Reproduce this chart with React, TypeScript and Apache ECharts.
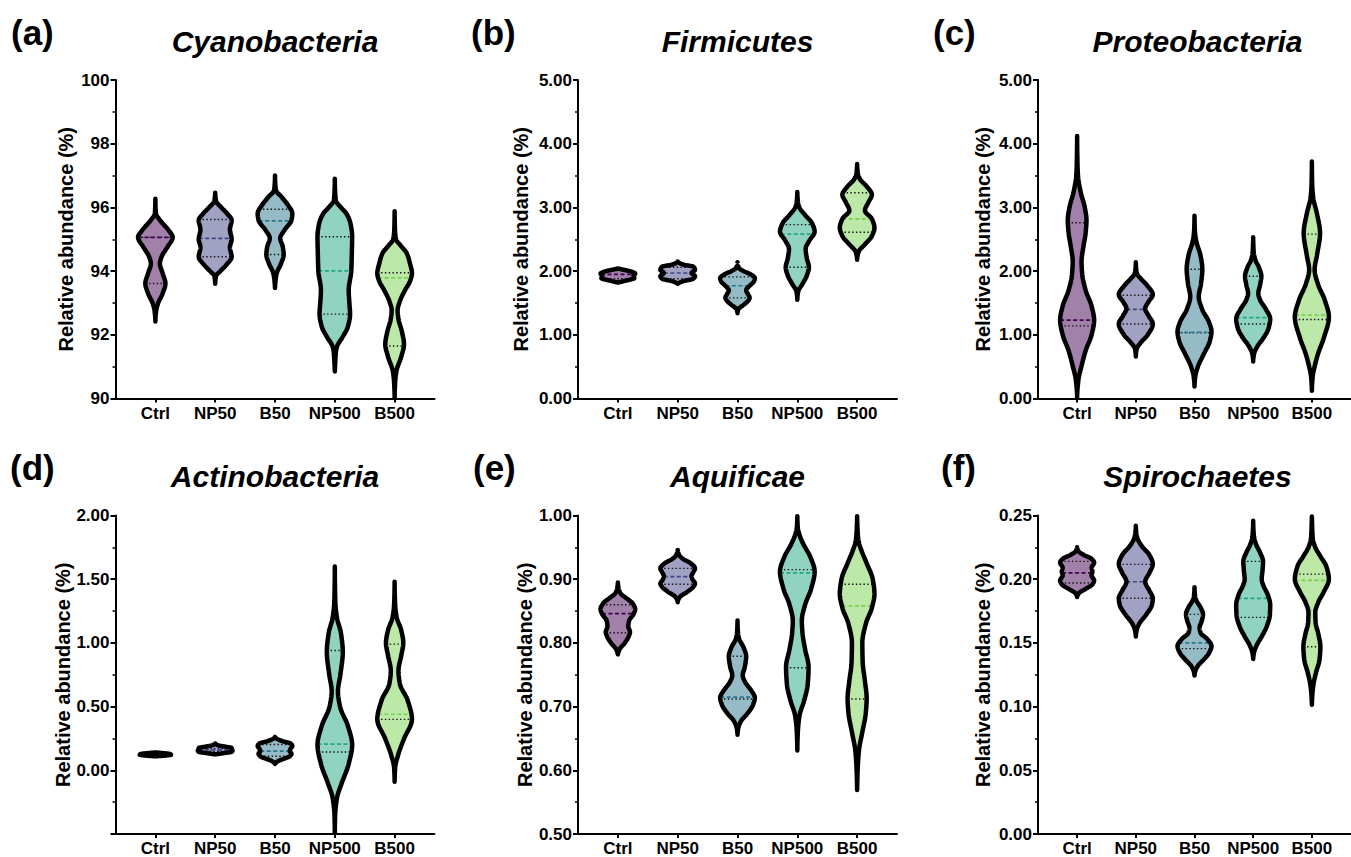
import React, { useEffect, useRef } from 'react';
import * as echarts from 'echarts';

type Pt = [number, number];

// ---------------- data ----------------
const CATEGORIES = ['Ctrl', 'NP50', 'B50', 'NP500', 'B500'];
const PANEL_LETTERS = ['(a)', '(b)', '(c)', '(d)', '(e)', '(f)'];
const PANEL_TITLES = ['Cyanobacteria', 'Firmicutes', 'Proteobacteria', 'Actinobacteria', 'Aquificae', 'Spirochaetes'];
const Y_MIN = [90, 0, 0, -0.5, 0.5, 0];
const Y_MAX = [100, 5, 5, 2, 1, 0.25];
const Y_STEP = [2, 1, 1, 0.5, 0.1, 0.05];
const Y_DECIMALS = [0, 2, 2, 2, 2, 2];
const Y_HIDE_MIN_LABEL = [false, false, false, true, false, false];
const Y_NAME = 'Relative abundance (%)';

// violin profiles: [value, relative density half-width]
const cyanoProfiles: Pt[][] = [
  [[92.42, 0], [92.77, 0.05], [92.98, 0.15], [93.3, 0.42], [93.61, 0.58], [93.93, 0.42], [94.24, 0.26], [94.45, 0.36], [94.76, 0.7], [95.06, 1.0], [95.29, 0.75], [95.6, 0.26], [95.81, 0.03], [96.27, 0]],
  [[93.6, 0], [93.85, 0.05], [94.0, 0.3], [94.2, 0.65], [94.45, 0.95], [94.75, 0.85], [95.0, 0.95], [95.3, 0.85], [95.6, 0.95], [95.8, 0.7], [96.0, 0.35], [96.2, 0.05], [96.46, 0]],
  [[93.47, 0], [93.7, 0.03], [93.93, 0.1], [94.24, 0.35], [94.52, 0.5], [94.76, 0.45], [95.03, 0.3], [95.29, 0.55], [95.6, 0.95], [95.81, 1.0], [96.07, 0.75], [96.34, 0.36], [96.54, 0.05], [97.0, 0]],
  [[90.85, 0], [91.2, 0.03], [91.45, 0.06], [91.62, 0.12], [91.94, 0.46], [92.25, 0.75], [92.65, 0.88], [93.0, 0.84], [93.4, 0.8], [94.01, 0.95], [94.55, 0.98], [95.08, 1.0], [95.5, 0.9], [95.82, 0.65], [96.0, 0.35], [96.23, 0.05], [96.9, 0]],
  [[90.03, 0], [90.5, 0.03], [90.85, 0.1], [91.31, 0.38], [91.7, 0.54], [92.1, 0.42], [92.5, 0.22], [92.77, 0.17], [93.05, 0.3], [93.4, 0.6], [93.7, 0.9], [93.93, 1.0], [94.25, 0.88], [94.56, 0.7], [94.8, 0.35], [95.0, 0.08], [95.3, 0.02], [95.88, 0]],
];
const cyanoMedian = [95.06, 95.03, 95.58, 94.01, 93.79];
const cyanoQ1 = [93.61, 94.45, 94.52, 92.65, 91.65];
const cyanoQ3 = [95.06, 95.62, 95.94, 95.08, 93.95];

const firmiProfiles: Pt[][] = [
  [[1.82, 0], [1.85, 0.45], [1.89, 0.95], [1.93, 0.9], [1.96, 1.0], [1.99, 0.8], [2.02, 0.35], [2.04, 0]],
  [[1.8, 0], [1.84, 0.3], [1.88, 0.9], [1.92, 1.0], [1.97, 0.8], [2.02, 1.0], [2.07, 0.9], [2.1, 0.35], [2.15, 0]],
  [[1.34, 0], [1.4, 0.05], [1.47, 0.35], [1.53, 0.6], [1.58, 0.7], [1.64, 0.6], [1.7, 0.5], [1.77, 0.7], [1.84, 0.95], [1.89, 1.0], [1.95, 0.75], [2.0, 0.35], [2.05, 0.08], [2.14, 0]],
  [[1.55, 0], [1.68, 0.05], [1.8, 0.3], [1.93, 0.55], [2.06, 0.67], [2.2, 0.55], [2.35, 0.48], [2.48, 0.7], [2.62, 1.0], [2.75, 0.85], [2.88, 0.45], [3.0, 0.12], [3.1, 0.03], [3.24, 0]],
  [[2.18, 0], [2.3, 0.08], [2.42, 0.45], [2.55, 0.85], [2.68, 1.0], [2.82, 0.85], [2.95, 0.45], [3.08, 0.65], [3.2, 0.85], [3.33, 0.55], [3.45, 0.15], [3.55, 0.03], [3.68, 0]],
];
const firmiMedian = [1.95, 1.97, 1.77, 2.58, 2.82];
const firmiQ1 = [1.88, 1.88, 1.58, 2.06, 2.61];
const firmiQ3 = [2.01, 2.06, 1.91, 2.73, 3.23];

const proteoProfiles: Pt[][] = [
  [[0.02, 0], [0.3, 0.08], [0.5, 0.25], [0.75, 0.5], [1.0, 0.85], [1.23, 1.0], [1.45, 0.85], [1.7, 0.5], [1.95, 0.3], [2.15, 0.26], [2.4, 0.38], [2.6, 0.5], [2.8, 0.55], [3.0, 0.45], [3.25, 0.2], [3.5, 0.05], [3.7, 0.02], [4.12, 0]],
  [[0.66, 0], [0.78, 0.05], [0.88, 0.3], [1.0, 0.7], [1.17, 1.0], [1.3, 0.75], [1.41, 0.55], [1.52, 0.75], [1.63, 1.0], [1.78, 0.65], [1.88, 0.3], [1.97, 0.05], [2.14, 0]],
  [[0.19, 0], [0.35, 0.05], [0.5, 0.2], [0.7, 0.55], [0.9, 0.9], [1.05, 1.0], [1.2, 0.85], [1.4, 0.45], [1.6, 0.25], [1.8, 0.38], [2.03, 0.46], [2.25, 0.35], [2.45, 0.12], [2.6, 0.03], [2.87, 0]],
  [[0.58, 0], [0.7, 0.05], [0.82, 0.25], [0.95, 0.6], [1.1, 0.9], [1.25, 1.0], [1.4, 0.75], [1.55, 0.4], [1.65, 0.3], [1.78, 0.4], [1.92, 0.48], [2.05, 0.35], [2.18, 0.12], [2.3, 0.03], [2.53, 0]],
  [[0.12, 0], [0.35, 0.05], [0.5, 0.16], [0.7, 0.36], [0.95, 0.7], [1.28, 1.0], [1.55, 0.75], [1.8, 0.35], [2.02, 0.16], [2.25, 0.3], [2.6, 0.48], [2.9, 0.3], [3.15, 0.08], [3.35, 0.02], [3.72, 0]],
];
const proteoMedian = [1.23, 1.4, 1.04, 1.27, 1.31];
const proteoQ1 = [1.14, 1.17, 1.03, 1.17, 1.24];
const proteoQ3 = [2.76, 1.62, 2.03, 1.92, 2.58];

const actinoProfiles: Pt[][] = [
  [[0.11, 0], [0.116, 0.6], [0.122, 0.9], [0.128, 0.85], [0.134, 0.5], [0.14, 0]],
  [[0.125, 0], [0.135, 0.5], [0.145, 0.95], [0.155, 1.0], [0.165, 0.95], [0.175, 0.95], [0.185, 0.6], [0.195, 0.2], [0.21, 0]],
  [[0.05, 0], [0.07, 0.15], [0.09, 0.5], [0.11, 0.85], [0.13, 0.95], [0.15, 0.85], [0.17, 0.9], [0.19, 1.0], [0.21, 0.9], [0.23, 0.4], [0.25, 0.08], [0.262, 0]],
  [[-0.49, 0], [-0.35, 0.02], [-0.22, 0.12], [-0.1, 0.4], [0.05, 0.8], [0.2, 1.0], [0.35, 0.75], [0.5, 0.3], [0.62, 0.18], [0.75, 0.32], [0.93, 0.46], [1.08, 0.35], [1.2, 0.12], [1.32, 0.03], [1.6, 0]],
  [[-0.09, 0], [0.02, 0.03], [0.12, 0.2], [0.25, 0.55], [0.4, 1.0], [0.55, 0.75], [0.68, 0.3], [0.78, 0.22], [0.9, 0.38], [1.0, 0.5], [1.1, 0.38], [1.2, 0.12], [1.3, 0.03], [1.48, 0]],
];
const actinoMedian = [0.124, 0.16, 0.15, 0.205, 0.44];
const actinoQ1 = [0.12, 0.15, 0.11, 0.144, 0.4];
const actinoQ3 = [0.128, 0.17, 0.202, 0.94, 0.99];

const aquiProfiles: Pt[][] = [
  [[0.782, 0], [0.79, 0.1], [0.8, 0.4], [0.81, 0.62], [0.817, 0.7], [0.826, 0.6], [0.835, 0.65], [0.845, 0.9], [0.853, 1.0], [0.862, 0.85], [0.87, 0.5], [0.878, 0.15], [0.886, 0.04], [0.895, 0]],
  [[0.864, 0], [0.872, 0.12], [0.88, 0.55], [0.888, 0.9], [0.893, 1.0], [0.9, 0.85], [0.905, 0.8], [0.911, 0.9], [0.917, 1.0], [0.925, 0.75], [0.932, 0.3], [0.938, 0.08], [0.946, 0]],
  [[0.656, 0], [0.667, 0.05], [0.677, 0.2], [0.69, 0.6], [0.703, 0.9], [0.714, 1.0], [0.725, 0.8], [0.738, 0.45], [0.749, 0.3], [0.762, 0.42], [0.779, 0.5], [0.793, 0.35], [0.806, 0.1], [0.815, 0.03], [0.835, 0]],
  [[0.631, 0], [0.66, 0.03], [0.685, 0.12], [0.71, 0.4], [0.735, 0.6], [0.762, 0.65], [0.79, 0.45], [0.815, 0.3], [0.835, 0.26], [0.86, 0.45], [0.885, 0.8], [0.912, 1.0], [0.935, 0.75], [0.955, 0.35], [0.97, 0.12], [0.98, 0.03], [0.999, 0]],
  [[0.569, 0], [0.6, 0.03], [0.63, 0.1], [0.66, 0.3], [0.69, 0.5], [0.713, 0.55], [0.74, 0.45], [0.77, 0.32], [0.8, 0.3], [0.83, 0.5], [0.855, 0.85], [0.877, 1.0], [0.9, 0.9], [0.925, 0.55], [0.945, 0.25], [0.96, 0.08], [0.975, 0.03], [0.999, 0]],
];
const aquiMedian = [0.846, 0.904, 0.715, 0.91, 0.858];
const aquiQ1 = [0.816, 0.892, 0.712, 0.761, 0.712];
const aquiQ3 = [0.86, 0.917, 0.779, 0.915, 0.892];

const spiroProfiles: Pt[][] = [
  [[0.186, 0], [0.189, 0.1], [0.192, 0.45], [0.196, 0.9], [0.199, 1.0], [0.203, 0.85], [0.206, 0.9], [0.209, 0.85], [0.213, 1.0], [0.216, 0.85], [0.219, 0.4], [0.222, 0.08], [0.225, 0]],
  [[0.155, 0], [0.16, 0.05], [0.165, 0.2], [0.172, 0.6], [0.18, 0.95], [0.185, 1.0], [0.191, 0.8], [0.198, 0.55], [0.205, 0.8], [0.212, 1.0], [0.219, 0.8], [0.226, 0.35], [0.232, 0.1], [0.236, 0.03], [0.242, 0]],
  [[0.1244, 0], [0.128, 0.05], [0.132, 0.2], [0.137, 0.55], [0.142, 0.85], [0.1475, 1.0], [0.153, 0.75], [0.158, 0.35], [0.162, 0.3], [0.167, 0.42], [0.1725, 0.5], [0.178, 0.35], [0.183, 0.12], [0.187, 0.03], [0.1936, 0]],
  [[0.1374, 0], [0.142, 0.04], [0.148, 0.2], [0.155, 0.5], [0.163, 0.8], [0.172, 0.98], [0.18, 1.0], [0.188, 0.85], [0.195, 0.6], [0.2, 0.5], [0.207, 0.55], [0.214, 0.58], [0.221, 0.4], [0.228, 0.15], [0.234, 0.04], [0.2458, 0]],
  [[0.1014, 0], [0.11, 0.03], [0.118, 0.1], [0.127, 0.25], [0.137, 0.45], [0.147, 0.5], [0.157, 0.38], [0.166, 0.22], [0.174, 0.2], [0.182, 0.38], [0.19, 0.7], [0.2, 1.0], [0.21, 0.85], [0.218, 0.5], [0.225, 0.2], [0.232, 0.05], [0.24, 0.02], [0.2492, 0]],
];
const spiroMedian = [0.205, 0.198, 0.15, 0.185, 0.199];
const spiroQ1 = [0.197, 0.185, 0.1455, 0.17, 0.147];
const spiroQ3 = [0.214, 0.2116, 0.1724, 0.214, 0.204];

const ALL_PROFILES = [cyanoProfiles, firmiProfiles, proteoProfiles, actinoProfiles, aquiProfiles, spiroProfiles];
const ALL_MEDIANS = [cyanoMedian, firmiMedian, proteoMedian, actinoMedian, aquiMedian, spiroMedian];
const ALL_Q1 = [cyanoQ1, firmiQ1, proteoQ1, actinoQ1, aquiQ1, spiroQ1];
const ALL_Q3 = [cyanoQ3, firmiQ3, proteoQ3, actinoQ3, aquiQ3, spiroQ3];

// ---------------- styles / layout ----------------
const COLORS = ['#440154', '#414487', '#2A788E', '#22A884', '#7AD151'];
const FONT = '"Liberation Sans", Arial, Helvetica, sans-serif';
const COL_LEFT = [115.5, 578, 1038];
const ROW_TOP = [80, 515.5];
const GRID_W = 319;
const GRID_H = 318.5;
const NAME_GAPS = [40, 47, 45, 43, 43, 45];
const LETTER_X = [11, 471, 933, 10, 473, 941];
const LETTER_Y = [32, 32, 32, 467, 467, 467];
const TITLE_Y = [41.5, 476.5];
const HALF_WIDTH_FRAC = 0.87; // of one axis slot
const OUTLINE_W = 4.5;

// 17 slots on the category axis: labels sit on every third slot
const AXIS_SLOTS = Array.from({ length: 17 }, (_, i) => (i % 3 === 2 ? CATEGORIES[(i - 2) / 3] : `slot${i}`));
const isLabelSlot = (i: number) => i % 3 === 2;
const slotOf = (k: number) => 3 * k + 2;

// monotone cubic (PCHIP) sampler for drawing a smooth outline through the read points
function pchip(pts: Pt[]) {
  const n = pts.length;
  const x = pts.map((p) => p[0]);
  const y = pts.map((p) => p[1]);
  const h: number[] = [];
  const d: number[] = [];
  for (let i = 0; i < n - 1; i++) {
    h.push(x[i + 1] - x[i]);
    d.push((y[i + 1] - y[i]) / h[i]);
  }
  const m = new Array(n).fill(0);
  for (let i = 1; i < n - 1; i++) {
    if (d[i - 1] * d[i] > 0) {
      const w1 = 2 * h[i] + h[i - 1];
      const w2 = h[i] + 2 * h[i - 1];
      m[i] = (w1 + w2) / (w1 / d[i - 1] + w2 / d[i]);
    }
  }
  const endSlope = (h0: number, h1: number, d0: number, d1: number) => {
    let s = ((2 * h0 + h1) * d0 - h0 * d1) / (h0 + h1);
    if (Math.sign(s) !== Math.sign(d0)) s = 0;
    else if (Math.sign(d0) !== Math.sign(d1) && Math.abs(s) > Math.abs(3 * d0)) s = 3 * d0;
    return s;
  };
  m[0] = endSlope(h[0], h[1], d[0], d[1]);
  m[n - 1] = endSlope(h[n - 2], h[n - 3], d[n - 2], d[n - 3]);
  return (v: number) => {
    if (v <= x[0]) return y[0];
    if (v >= x[n - 1]) return y[n - 1];
    let i = 0;
    while (i < n - 2 && v > x[i + 1]) i++;
    const t = (v - x[i]) / h[i];
    const t2 = t * t;
    const t3 = t2 * t;
    return (
      (2 * t3 - 3 * t2 + 1) * y[i] +
      (t3 - 2 * t2 + t) * h[i] * m[i] +
      (-2 * t3 + 3 * t2) * y[i + 1] +
      (t3 - t2) * h[i] * m[i + 1]
    );
  };
}

function buildOption() {
  const grid: any[] = [];
  const xAxis: any[] = [];
  const yAxis: any[] = [];
  const series: any[] = [];
  const graphic: any[] = [];

  for (let p = 0; p < 6; p++) {
    const col = p % 3;
    const row = Math.floor(p / 3);
    grid.push({ left: COL_LEFT[col], top: ROW_TOP[row], width: GRID_W, height: GRID_H });
    xAxis.push({
      type: 'category',
      gridIndex: p,
      data: AXIS_SLOTS,
      boundaryGap: false,
      axisLine: { onZero: false, lineStyle: { color: '#000', width: 2 } },
      axisTick: { show: true, interval: (i: number) => isLabelSlot(i), length: 4, lineStyle: { color: '#000', width: 2 } },
      axisLabel: {
        interval: (i: number) => isLabelSlot(i),
        color: '#000',
        fontWeight: 'bold',
        fontSize: 17,
        fontFamily: FONT,
        margin: 6,
      },
      splitLine: { show: false },
    });
    const yMin = Y_MIN[p];
    const dec = Y_DECIMALS[p];
    const hideMin = Y_HIDE_MIN_LABEL[p];
    yAxis.push({
      type: 'value',
      gridIndex: p,
      min: yMin,
      max: Y_MAX[p],
      interval: Y_STEP[p],
      axisLine: { show: true, onZero: false, lineStyle: { color: '#000', width: 2 } },
      axisTick: { show: true, length: 5, lineStyle: { color: '#000', width: 2 } },
      minorTick: { show: true, splitNumber: 2, length: 3, lineStyle: { color: '#000', width: 1.5 } },
      axisLabel: {
        color: '#000',
        fontWeight: 'bold',
        fontSize: 17,
        fontFamily: FONT,
        margin: 6,
        formatter: (v: number) => (hideMin && Math.abs(v - yMin) < 1e-9 ? '' : v.toFixed(dec)),
      },
      splitLine: { show: false },
      name: Y_NAME,
      nameLocation: 'middle',
      nameGap: NAME_GAPS[p],
      nameTextStyle: { color: '#000', fontSize: 20, fontFamily: FONT, fontWeight: 'bold' },
    });

    const profiles = ALL_PROFILES[p];
    const medians = ALL_MEDIANS[p];
    const q1s = ALL_Q1[p];
    const q3s = ALL_Q3[p];
    const samplers = profiles.map((pr) => pchip(pr));

    series.push({
      type: 'custom',
      xAxisIndex: p,
      yAxisIndex: p,
      clip: false,
      silent: true,
      encode: { x: 0, y: 1 },
      data: CATEGORIES.map((_, k) => [slotOf(k), medians[k]]),
      renderItem: (params: any, api: any) => {
        const k = params.dataIndex;
        const slot = api.value(0);
        const prof = profiles[k];
        const f = samplers[k];
        const scale = api.size([1, 0])[0] * HALF_WIDTH_FRAC;
        const v0 = prof[0][0];
        const v1 = prof[prof.length - 1][0];
        const N = 160;
        const left: number[][] = [];
        const right: number[][] = [];
        for (let s = 0; s <= N; s++) {
          const v = v0 + ((v1 - v0) * s) / N;
          const w = Math.max(0, f(v)) * scale;
          const c = api.coord([slot, v]);
          left.push([c[0] - w, c[1]]);
          right.push([c[0] + w, c[1]]);
        }
        const points = left.concat(right.reverse());
        const color = COLORS[k];
        const lineAt = (v: number, style: any) => {
          const w = Math.max(0, f(v)) * scale;
          const c = api.coord([slot, v]);
          return { type: 'line', shape: { x1: c[0] - w, y1: c[1], x2: c[0] + w, y2: c[1] }, style };
        };
        const dotted = { stroke: '#111', lineWidth: 1.4, lineDash: [1.4, 2.4] };
        return {
          type: 'group',
          children: [
            { type: 'polygon', shape: { points }, style: { fill: echarts.color.modifyAlpha(color, 0.5), stroke: 'none' } },
            lineAt(q1s[k], dotted),
            lineAt(q3s[k], dotted),
            lineAt(medians[k], { stroke: color, lineWidth: 1.7, lineDash: [4, 2.5] }),
            {
              type: 'polygon',
              shape: { points },
              style: { fill: 'none', stroke: '#000', lineWidth: OUTLINE_W, lineJoin: 'round' },
            },
          ],
        };
      },
    });

    graphic.push({
      type: 'text',
      x: LETTER_X[p],
      y: LETTER_Y[p],
      silent: true,
      style: {
        text: PANEL_LETTERS[p],
        fill: '#000',
        fontSize: 35,
        fontWeight: 'bold',
        fontFamily: FONT,
        align: 'left',
        verticalAlign: 'middle',
        textAlign: 'left',
        textVerticalAlign: 'middle',
      },
    });
    graphic.push({
      type: 'text',
      x: COL_LEFT[col] + GRID_W / 2,
      y: TITLE_Y[row],
      silent: true,
      style: {
        text: PANEL_TITLES[p],
        fill: '#000',
        fontSize: 30,
        fontWeight: 'bold',
        fontStyle: 'italic',
        fontFamily: FONT,
        align: 'center',
        verticalAlign: 'middle',
        textAlign: 'center',
        textVerticalAlign: 'middle',
      },
    });
  }

  return { animation: false, backgroundColor: '#fff', grid, xAxis, yAxis, series, graphic };
}

export default function App() {
  const ref = useRef<HTMLDivElement>(null);
  useEffect(() => {
    if (!ref.current) return;
    const chart = echarts.init(ref.current, null, { renderer: 'svg' });
    chart.setOption(buildOption() as any);
    return () => chart.dispose();
  }, []);
  return (
    <div
      ref={ref}
      style={{ position: 'fixed', left: 0, top: 0, width: 1351, height: 857, background: '#fff' }}
    />
  );
}
